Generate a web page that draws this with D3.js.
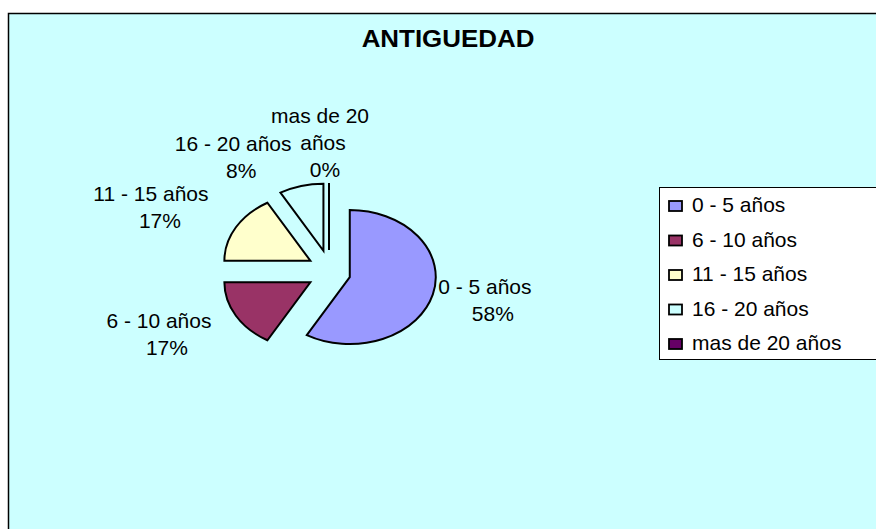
<!DOCTYPE html>
<html>
<head>
<meta charset="utf-8">
<script src="https://cdn.jsdelivr.net/npm/d3@7"></script>
<style>
  body { margin: 0; background: #fff; }
  svg text { font-family: "Liberation Sans", Arial, sans-serif; fill: #000; }
</style>
</head>
<body>
<div id="chart"></div>
<script>
// data (counts of 12 people: 58%, 17%, 17%, 8%, 0%)
const categories = ["0 - 5 años", "6 - 10 años", "11 - 15 años", "16 - 20 años", "mas de 20 años"];
const values = [7, 2, 2, 1, 0];
const colors = ["#9999FF", "#993366", "#FFFFCC", "#CCFFFF", "#660066"];
// data label text lines (Excel wraps the last one)
const labelLines = [
  ["0 - 5 años", "58%"],
  ["6 - 10 años", "17%"],
  ["11 - 15 años", "17%"],
  ["16 - 20 años", "8%"],
  ["mas de 20", "años", "0%"]
];
// label nudges from the arc mid point (Excel moved them to avoid overlaps)
const labelNudge = [[52, 0], [-77, 12], [-85, -26], [-68, -35], [-9, -60]];
const lineDx = [[0, 8], [0, 8], [0, 9], [0, 8], [0, 3, 5]];

const width = 876, height = 529;
const cx = 329, cy = 271.5;   // pie centre
const rx = 86, ry = 67;       // the picture is stretched, so the pie is an ellipse
const explode = 21.5;
const sx = 1.05;              // text stretched a little as well

const svg = d3.select("#chart").append("svg")
    .attr("width", width)
    .attr("height", height);

// chart area
svg.append("rect")
    .attr("x", 8.5).attr("y", 13.5)
    .attr("width", 1000).attr("height", 1000)
    .attr("fill", "#CCFFFF")
    .attr("stroke", "#000")
    .attr("stroke-width", 1.5);

svg.append("text")
    .attr("transform", `translate(448,47) scale(1.08,1)`)
    .attr("text-anchor", "middle")
    .attr("font-size", 24)
    .attr("font-weight", "bold")
    .text("ANTIGUEDAD");

const pie = d3.pie().sort(null).value(d => d);
const arcs = pie(values);
const arc = d3.arc().innerRadius(0).outerRadius(rx);

const mid = d => (d.startAngle + d.endAngle) / 2;

svg.append("g").selectAll("path")
  .data(arcs)
  .join("path")
    .attr("transform", d => {
      const a = mid(d);
      return `translate(${cx + Math.sin(a) * explode},${cy - Math.cos(a) * explode}) scale(1,${ry / rx})`;
    })
    .attr("d", arc)
    .attr("fill", (d, i) => colors[i])
    .attr("stroke", "#000")
    .attr("stroke-width", 2)
    .attr("stroke-linejoin", "miter")
    .attr("vector-effect", "non-scaling-stroke");

// data labels
const labels = svg.append("g").selectAll("g")
  .data(arcs)
  .join("g")
    .attr("transform", (d, i) => {
      const a = mid(d);
      const px = cx + Math.sin(a) * (explode + rx);
      const py = cy - Math.cos(a) * (explode + ry);
      return `translate(${px + labelNudge[i][0]},${py + labelNudge[i][1]})`;
    });

labels.each(function(d, i) {
  d3.select(this).selectAll("text")
    .data(labelLines[i])
    .join("text")
      .attr("transform", (t, j) => `translate(${lineDx[i][j]},${j * 27}) scale(${sx},1)`)
      .attr("text-anchor", "middle")
      .attr("font-size", 20)
      .text(t => t);
});

// legend
const legend = svg.append("g");
legend.append("rect")
    .attr("x", 659.5).attr("y", 187.5)
    .attr("width", 400).attr("height", 172)
    .attr("fill", "#fff")
    .attr("stroke", "#000")
    .attr("stroke-width", 1);

const rowY = d3.scalePoint().domain(categories).range([212, 350]);

const rows = legend.selectAll("g.row")
  .data(categories)
  .join("g")
    .attr("class", "row")
    .attr("transform", d => `translate(0,${rowY(d)})`);

rows.append("rect")
    .attr("x", 669).attr("y", -11)
    .attr("width", 13).attr("height", 10)
    .attr("fill", (d, i) => colors[i])
    .attr("stroke", "#000")
    .attr("stroke-width", 1.8);

rows.append("text")
    .attr("transform", `translate(692,0) scale(${sx},1)`)
    .attr("font-size", 20)
    .text(d => d);
</script>
</body>
</html>
